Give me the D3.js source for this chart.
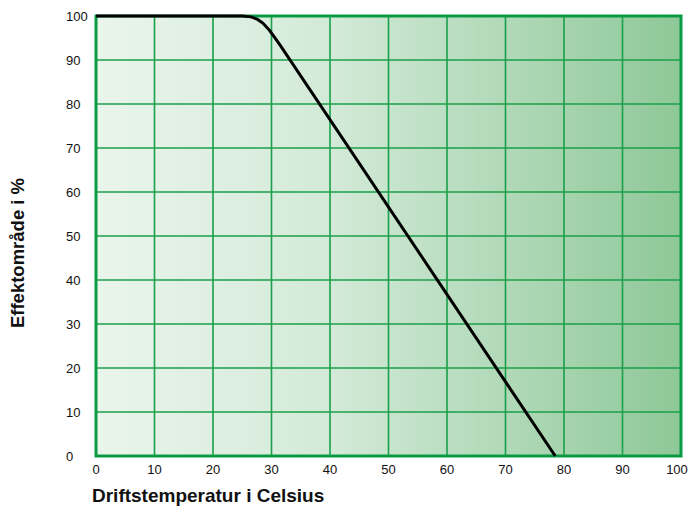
<!DOCTYPE html>
<meta charset="utf-8">
<style>
  body { margin: 0; background: #fff; }
  text { font-family: "Liberation Sans", Arial, sans-serif; fill: #111; }
</style>
<body>
<svg width="690" height="506"></svg>
<script src="https://cdn.jsdelivr.net/npm/d3@7"></script>
<script>
  // derating curve: temperature (C) -> power range (%)
  var temps = [0, 25, 26.5, 27.5, 28.5, 29.5, 30.5, 31.5, 78.5];
  var power = [100, 100, 99.8, 99.3, 98.4, 97, 95.2, 93.3, 0];
  var xTicks = [0, 10, 20, 30, 40, 50, 60, 70, 80, 90, 100];
  var yTicks = [0, 10, 20, 30, 40, 50, 60, 70, 80, 90, 100];

  var pLeft = 96, pRight = 681, pTop = 16, pBottom = 456;
  var svg = d3.select("svg");

  var x = d3.scaleLinear().domain([0, 100]).range([pLeft, pRight]);
  var y = d3.scaleLinear().domain([0, 100]).range([pBottom, pTop]);

  var grad = svg.append("defs").append("linearGradient")
    .attr("id", "bg").attr("x1", "0").attr("x2", "1").attr("y1", "0").attr("y2", "0");
  grad.append("stop").attr("offset", "0").attr("stop-color", "#eaf5ec");
  grad.append("stop").attr("offset", "0.4").attr("stop-color", "#d3ead8");
  grad.append("stop").attr("offset", "1").attr("stop-color", "#8ec898");

  svg.append("rect")
    .attr("x", pLeft).attr("y", pTop)
    .attr("width", pRight - pLeft).attr("height", pBottom - pTop)
    .attr("fill", "url(#bg)");

  // grid
  svg.append("g").selectAll("line")
    .data(xTicks.slice(1, -1))
    .enter().append("line")
    .attr("x1", function(d) { return x(d); })
    .attr("x2", function(d) { return x(d); })
    .attr("y1", pTop).attr("y2", pBottom)
    .attr("stroke", "#1a9f4a").attr("stroke-width", 1.6);

  svg.append("g").selectAll("line")
    .data(yTicks.slice(1, -1))
    .enter().append("line")
    .attr("y1", function(d) { return y(d); })
    .attr("y2", function(d) { return y(d); })
    .attr("x1", pLeft).attr("x2", pRight)
    .attr("stroke", "#1a9f4a").attr("stroke-width", 1.6);

  svg.append("rect")
    .attr("x", pLeft).attr("y", pTop)
    .attr("width", pRight - pLeft).attr("height", pBottom - pTop)
    .attr("fill", "none").attr("stroke", "#0a9a45").attr("stroke-width", 3);

  // curve
  var pts = temps.map(function(t, i) { return [t, power[i]]; });
  var line = d3.line()
    .x(function(d) { return x(d[0]); })
    .y(function(d) { return y(d[1]); });

  svg.append("path")
    .datum(pts)
    .attr("d", line)
    .attr("fill", "none")
    .attr("stroke", "#000")
    .attr("stroke-width", 3)
    .attr("stroke-linejoin", "round");

  // tick labels
  svg.append("g").selectAll("text")
    .data(xTicks)
    .enter().append("text")
    .attr("x", function(d) { return Math.min(x(d), 677); })
    .attr("y", 474)
    .attr("text-anchor", "middle")
    .style("font-size", "13px")
    .text(function(d) { return d; });

  svg.append("g").selectAll("text")
    .data(yTicks)
    .enter().append("text")
    .attr("x", 66)
    .attr("y", function(d) { return y(d) + 5; })
    .style("font-size", "13px")
    .text(function(d) { return d; });

  // axis titles
  svg.append("text")
    .attr("x", 92).attr("y", 502)
    .style("font-size", "19px").style("font-weight", "bold")
    .text("Driftstemperatur i Celsius");

  svg.append("text")
    .attr("transform", "translate(24,253) rotate(-90)")
    .attr("text-anchor", "middle")
    .style("font-size", "18.5px").style("font-weight", "bold")
    .text("Effektområde i %");
</script>
</body>
